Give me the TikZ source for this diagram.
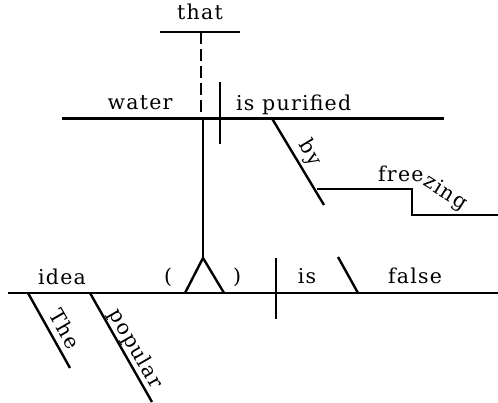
\documentclass[tikz,border=0pt]{standalone}
\usepackage{fontspec}
\newfontfamily\diafont[LetterSpace=6]{DejaVu Serif}
\usetikzlibrary{positioning}

\begin{document}
\begin{tikzpicture}[x=1pt,y=-1pt,line width=2.4pt,
  word/.style={font=\diafont\fontsize{20.5}{24}\selectfont,anchor=base,inner sep=0pt},
  slant/.style={word,anchor=center,rotate=-60}]
\useasboundingbox (0,0) rectangle (498,403);
% base lines
\coordinate (thatL) at (160,32);  \coordinate (thatR) at (240,32);
\coordinate (subL) at (62,118.5); \coordinate (subR) at (444,118.5);
\coordinate (mainL) at (8,293);   \coordinate (mainR) at (498,293);
\draw (thatL) -- (thatR);
\draw (subL) -- (subR);
\draw (mainL) -- (mainR);
% that ... water is purified
\draw[dash pattern=on 12pt off 5pt] (201,32) coordinate (dashT) -- (201,118.5) coordinate (dashB);
\draw (220,82) coordinate (divT) -- (220,144) coordinate (divB);
\draw (dashB) ++(2,0) coordinate (stemT) -- (203,258) coordinate (fork);
\draw (185,293) coordinate (legL) -- (fork) -- (224,293) coordinate (legR);
% by freezing
\draw (272,118.5) coordinate (byT) -- (324,205) coordinate (byB);
\draw (317,189) coordinate (frA) -- (412,189) coordinate (frB) -- (412,215) coordinate (frC) -- (498,215) coordinate (frD);
% main clause
\draw (276,258) coordinate (mdivT) -- (276,319) coordinate (mdivB);
\draw (338,257) coordinate (paT) -- (358,293) coordinate (paB);
\draw (28,293) coordinate (theT) -- (70,368) coordinate (theB);
\draw (90,293) coordinate (popT) -- (152,402) coordinate (popB);
% words
\node[word] (that) at (200,20) {that};
\node[word] (water) at (140,110) {water};
\node[word,anchor=base west] (purified) at (235,111) {is purified};
\node[slant,rotate=1] (by) at (310,153) {by};
\node[word,anchor=base west] (free) at (377,182) {free};
\node[word,anchor=center,rotate=-32] (zing) at (445,193) {zing};
\node[word] (idea) at (62,285) {idea};
\node[word] (lpar) at (168,284) {(};
\node[word] (rpar) at (237,284) {)};
\node[word] (is) at (307,284) {is};
\node[word] (false) at (415,284) {false};
\node[slant] (the) at (65,329) {The};
\node[slant] (popular) at (135,349) {popular};
\end{tikzpicture}
\end{document}
